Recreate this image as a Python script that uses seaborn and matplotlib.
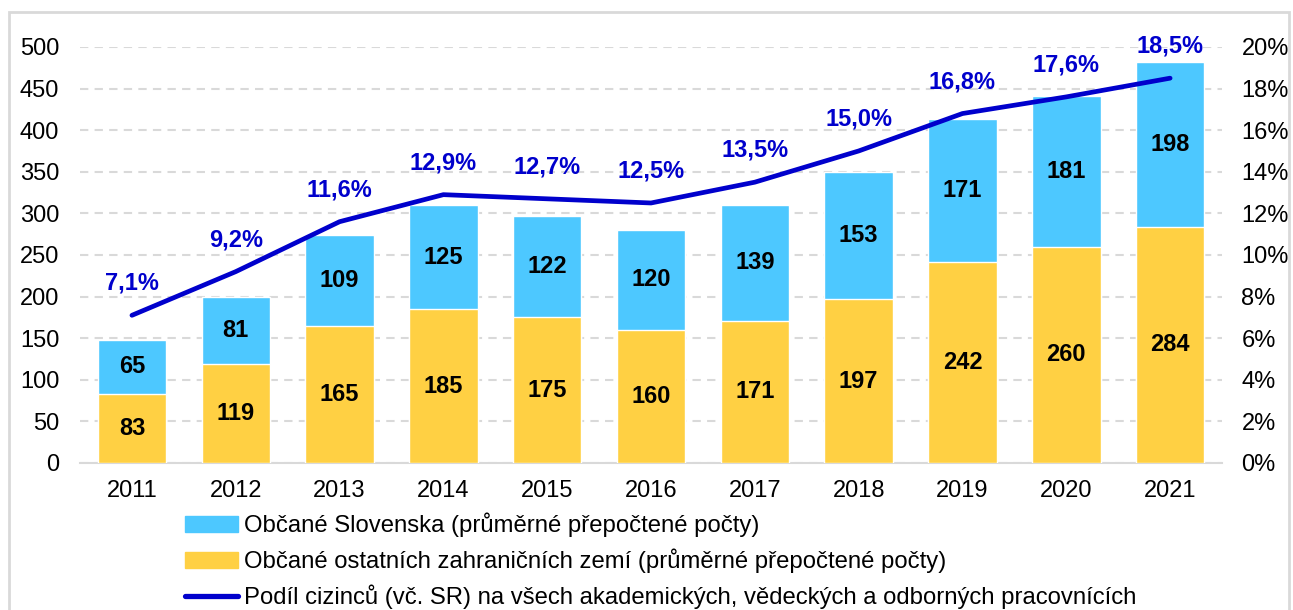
import seaborn as sns
import matplotlib.pyplot as plt
import pandas as pd
from matplotlib.patches import Rectangle
from matplotlib.lines import Line2D
from matplotlib.ticker import FuncFormatter

years = ["2011", "2012", "2013", "2014", "2015", "2016", "2017", "2018", "2019", "2020", "2021"]
slovaks = [65, 81, 109, 125, 122, 120, 139, 153, 171, 181, 198]
others = [83, 119, 165, 185, 175, 160, 171, 197, 242, 260, 284]
share = [7.1, 9.2, 11.6, 12.9, 12.7, 12.5, 13.5, 15.0, 16.8, 17.6, 18.5]

label_sk = "Občané Slovenska (průměrné přepočtené počty)"
label_oth = "Občané ostatních zahraničních zemí (průměrné přepočtené počty)"
label_share = "Podíl cizinců (vč. SR) na všech akademických, vědeckých a odborných pracovnících"

col_sk = "#4DC8FF"
col_oth = "#FFD043"
col_line = "#0000CC"

sns.set_style("white")
plt.rcParams["font.family"] = ["Liberation Sans", "DejaVu Sans"]
plt.rcParams["text.color"] = "black"

df = pd.DataFrame({"year": years, "sk": slovaks, "oth": others, "share": share})
df["total"] = df["sk"] + df["oth"]

fig = plt.figure(figsize=(12.93, 6.10), dpi=100)
ax = fig.add_axes([0.0619, 0.241, 0.8832, 0.682])

# stacked bars: draw the total in blue, then the bottom part in yellow on top
sns.barplot(data=df, x="year", y="total", color=col_sk, width=0.66, ax=ax, saturation=1, zorder=2)
sns.barplot(data=df, x="year", y="oth", color=col_oth, width=0.66, ax=ax, saturation=1, zorder=3)

ax.set_ylim(0, 500)
ax.set_xlim(-0.5, 10.5)
ax.set_yticks(range(0, 501, 50))
ax.yaxis.grid(True, color="#D9D9D9", linestyle=(0, (4, 3)), linewidth=1.5, zorder=0)
ax.set_axisbelow(True)
ax.set_xlabel("")
ax.set_ylabel("")
for s in ["top", "right", "left"]:
    ax.spines[s].set_visible(False)
ax.spines["bottom"].set_color("#D9D9D9")
ax.spines["bottom"].set_linewidth(1.5)
ax.tick_params(axis="both", labelsize=17, length=0, pad=12, colors="black")
ax.tick_params(axis="y", pad=15)

for i, (s, o) in enumerate(zip(slovaks, others)):
    ax.text(i, o / 2, str(o), ha="center", va="center", fontsize=17, fontweight="bold",
            color="black", zorder=5)
    ax.text(i, o + s / 2, str(s), ha="center", va="center", fontsize=17, fontweight="bold",
            color="black", zorder=5)

ax2 = ax.twinx()
sns.lineplot(x=range(len(years)), y=share, color=col_line, linewidth=3.4, ax=ax2, zorder=6)
ax2.set_ylim(0, 20)
ax2.set_yticks(range(0, 21, 2))
ax2.yaxis.set_major_formatter(FuncFormatter(lambda v, p: f"{int(v)}%"))
ax2.tick_params(axis="y", labelsize=17, length=0, pad=14, colors="black")
for s in ax2.spines.values():
    s.set_visible(False)
for i, v in enumerate(share):
    ax2.annotate(f"{v:.1f}%".replace(".", ","), (i, v), xytext=(0, 23), textcoords="offset points",
                 ha="center", va="center", fontsize=17, fontweight="bold", color=col_line)

handles = [
    Rectangle((0, 0), 1, 1, color=col_sk),
    Rectangle((0, 0), 1, 1, color=col_oth),
    Line2D([0], [0], color=col_line, linewidth=3.8),
]
fig.legend(handles, [label_sk, label_oth, label_share], loc="upper left",
           bbox_to_anchor=(0.136, 0.175), frameon=False, fontsize=17.2,
           handlelength=2.2, handletextpad=0.25, labelspacing=0.48, borderaxespad=0)

fig.patches.append(Rectangle((0.007, -0.05), 0.99, 1.03, transform=fig.transFigure,
                             fill=False, edgecolor="#D9D9D9", linewidth=2))

fig.savefig("out.png", dpi=100)
